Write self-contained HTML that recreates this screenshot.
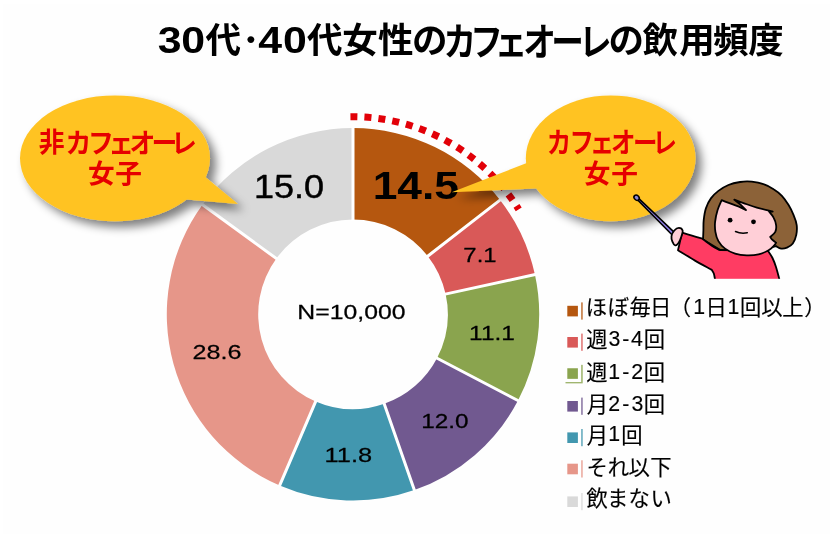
<!DOCTYPE html>
<html lang="ja">
<head>
<meta charset="utf-8">
<title>30代･40代女性のカフェオーレの飲用頻度</title>
<style>
html,body{margin:0;padding:0;background:#fff;}
body{width:834px;height:538px;overflow:hidden;font-family:"Liberation Sans","Noto Sans CJK JP",sans-serif;}
svg{display:block;}
text{font-family:"Liberation Sans","Noto Sans CJK JP",sans-serif;white-space:pre;}
.t{font-weight:bold;fill:#000;}
.b{font-weight:bold;fill:#E60000;}
.l{fill:#000;stroke:#000;stroke-linejoin:round;}
.lg{fill:#000;stroke:#000;stroke-width:0.15px;stroke-linejoin:round;}
.lb{font-weight:bold;fill:#000;}
</style>
</head>
<body>
<svg width="834" height="538" viewBox="0 0 834 538">
<defs>
<filter id="sh" x="-20%" y="-20%" width="160%" height="160%">
<feGaussianBlur in="SourceAlpha" stdDeviation="4.6"/>
<feOffset dx="6" dy="6"/>
<feComponentTransfer><feFuncA type="linear" slope="0.5"/></feComponentTransfer>
<feMerge><feMergeNode/><feMergeNode in="SourceGraphic"/></feMerge>
</filter>
</defs>
<rect width="834" height="538" fill="#fff"/>
<rect x="3" y="4.5" width="827.3" height="529.8" fill="#fefefe"/>
<text class="t" font-size="35.5" x="157.72 181.27 205.42 241.89 258.28 282.97 306.97 342.15 378.06 411.91 443.62 470.18 494.7 523.36 551.3 579.01 608.51 642.61 679.28 713.02 748.14" y="53.1 53.1 53.1 53.1 53.1 53.1 53.1 53.1 53.1 53.1 54.6 54.6 54.6 54.6 54.6 54.6 53.1 53.1 53.1 53.1 53.1"><tspan font-size="36.6" textLength="47.63" lengthAdjust="spacingAndGlyphs">30</tspan>代･<tspan font-size="36.6" textLength="47.63" lengthAdjust="spacingAndGlyphs">40</tspan>代女性の<tspan font-size="37.5" textLength="195.75" lengthAdjust="spacingAndGlyphs">カフェオーレ</tspan>の飲用頻度</text>
<g shape-rendering="geometricPrecision">
<path d="M353 128.1A186.2 186.2 0 0 1 500.02 200.04L427.85 256.13A94.8 94.8 0 0 0 353 219.5Z" fill="#B5570F"/>
<path d="M500.02 200.04A186.2 186.2 0 0 1 534.91 274.58L445.62 294.08A94.8 94.8 0 0 0 427.85 256.13Z" fill="#D95958"/>
<path d="M534.91 274.58A186.2 186.2 0 0 1 518.01 400.57L437.01 358.22A94.8 94.8 0 0 0 445.62 294.08Z" fill="#8AA44E"/>
<path d="M518.01 400.57A186.2 186.2 0 0 1 414.36 490.1L384.24 403.8A94.8 94.8 0 0 0 437.01 358.22Z" fill="#715990"/>
<path d="M414.36 490.1A186.2 186.2 0 0 1 279.66 485.45L315.66 401.44A94.8 94.8 0 0 0 384.24 403.8Z" fill="#4297AF"/>
<path d="M279.66 485.45A186.2 186.2 0 0 1 202.46 204.71L276.36 258.51A94.8 94.8 0 0 0 315.66 401.44Z" fill="#E69689"/>
<path d="M202.46 204.71A186.2 186.2 0 0 1 353 128.1L353 219.5A94.8 94.8 0 0 0 276.36 258.51Z" fill="#D9D9D9"/>
<path d="M353 126.6L353 221M501.21 199.12L426.67 257.05M536.38 274.26L444.15 294.4M519.34 401.27L435.68 357.53M414.85 491.52L383.75 402.39M279.07 486.83L316.25 400.06M201.25 203.83L277.57 259.39" stroke="#fff" stroke-width="3.0" fill="none"/>
</g>
<path d="M350.45 116.71A195.8 195.8 0 0 1 518.71 209.32" fill="none" stroke="#E20008" stroke-width="7" stroke-dasharray="7 7.03"/>
<text class="lb" x="372.71" y="198.52" font-size="39.27" textLength="86.33" lengthAdjust="spacingAndGlyphs">14.5</text>
<text class="l" x="463.38" y="261.7" font-size="20.2" stroke-width="0.26" textLength="33.19" lengthAdjust="spacingAndGlyphs">7.1</text>
<text class="l" x="469.11" y="340.4" font-size="20.35" stroke-width="0.26" textLength="45.74" lengthAdjust="spacingAndGlyphs">11.1</text>
<text class="l" x="421.15" y="427.61" font-size="19.63" stroke-width="0.26" textLength="47.3" lengthAdjust="spacingAndGlyphs">12.0</text>
<text class="l" x="324.64" y="462.1" font-size="20.34" stroke-width="0.26" textLength="47.52" lengthAdjust="spacingAndGlyphs">11.8</text>
<text class="l" x="192.53" y="358.9" font-size="20.34" stroke-width="0.26" textLength="48.97" lengthAdjust="spacingAndGlyphs">28.6</text>
<text class="l" x="253.95" y="198.47" font-size="33.9" stroke-width="0.44" textLength="70.15" lengthAdjust="spacingAndGlyphs">15.0</text>
<text class="l" x="297.37" y="318.6" font-size="20.34" stroke-width="0.26" textLength="108.1" lengthAdjust="spacingAndGlyphs">N=10,000</text>
<rect x="567.3" y="305.8" width="10.6" height="10.6" fill="#B5570F"/>
<rect x="581.2" y="302.4" width="1.5" height="17.2" fill="#B5570F" opacity="0.85"/>
<text class="lg" font-size="21.3" x="585.65 607.75 629.43 649.91 669.64 693.14 705.61 727.39 740.09 761.33 782.14 804.21" y="315.14 315.14 314.97 314.97 314.97 313.87 314.97 313.87 314.97 314.97 314.97 314.97">ほぼ毎日（1日1回以上）</text>
<rect x="567.3" y="337" width="10.6" height="10.6" fill="#D95958"/>
<rect x="581.2" y="333.6" width="1.5" height="17.2" fill="#D95958" opacity="0.85"/>
<text class="lg" font-size="21.3" x="586.31 608.39 622.25 630.99 643.79" y="346.97 345.87 345.87 345.87 346.97">週3-4回</text>
<rect x="567.3" y="368.25" width="10.6" height="10.6" fill="#8AA44E"/>
<rect x="581.2" y="364.85" width="1.5" height="17.2" fill="#8AA44E" opacity="0.85"/>
<rect x="565.5" y="382.05" width="17.2" height="1.3" fill="#8AA44E" opacity="0.85"/>
<text class="lg" font-size="21.3" x="586.31 608.29 622.25 631.23 643.79" y="379.67 378.57 378.57 378.57 379.67">週1-2回</text>
<rect x="567.3" y="401" width="10.6" height="10.6" fill="#715990"/>
<rect x="581.2" y="397.6" width="1.5" height="17.2" fill="#715990" opacity="0.85"/>
<text class="lg" font-size="21.3" x="586.8 608.28 622.25 631.54 643.79" y="411.67 410.57 410.57 410.57 411.67">月2-3回</text>
<rect x="567.3" y="432.4" width="10.6" height="10.6" fill="#4297AF"/>
<rect x="581.2" y="429" width="1.5" height="17.2" fill="#4297AF" opacity="0.85"/>
<text class="lg" font-size="21.3" x="586.8 608.29 621.34" y="442.57 441.47 442.57">月1回</text>
<rect x="567.3" y="463.7" width="10.6" height="10.6" fill="#E69689"/>
<rect x="581.2" y="460.3" width="1.5" height="17.2" fill="#E69689" opacity="0.85"/>
<text class="lg" font-size="21.3" x="586.52 607.85 628.58 650.19" y="474.84 474.84 474.67 474.67">それ以下</text>
<rect x="567.3" y="496.4" width="10.6" height="10.6" fill="#D9D9D9"/>
<rect x="581.2" y="493" width="1.5" height="17.2" fill="#D9D9D9" opacity="0.85"/>
<text class="lg" font-size="21.3" x="586.45 607.09 628.62 650.56" y="505.57 505.74 505.74 505.74">飲まない</text>
<g filter="url(#sh)">
<path d="M195 168.6L238 204L175 198.5Z" fill="#FFC324"/>
<ellipse cx="115" cy="158.35" rx="95" ry="62.95" fill="#FFC324"/>
</g>
<g filter="url(#sh)">
<path d="M530 161.7L451.7 192.3L545 188.05Z" fill="#FFC324"/>
<ellipse cx="610.65" cy="158.3" rx="84.85" ry="62.9" fill="#FFC324"/>
</g>
<text class="b" font-size="26.94" textLength="181.01" lengthAdjust="spacingAndGlyphs" x="38.66 65.55 88.12 108.29 129.58 151.58 170.92" y="152 152.81 152.81 152.81 152.81 152.81 152.81">非カフェオーレ</text>
<text class="b" font-size="26.67" x="87.97 115.3" y="182.7">女子</text>
<text class="b" font-size="28.16" textLength="147.01" lengthAdjust="spacingAndGlyphs" x="546.8 569.52 589.77 610.89 632.96 652.48" y="153.12">カフェオーレ</text>
<text class="b" font-size="26.67" x="583.87 611.2" y="182.7">女子</text>
<g stroke="#000" stroke-width="1.8" stroke-linejoin="round" stroke-linecap="round">
<path d="M703 239.5C703.1 237.9 703.3 233.4 703.4 230.2C703.5 227 703.3 223.8 703.7 220.2C704.1 216.6 704.7 212 705.9 208.4C707.1 204.8 708.8 201.3 710.9 198.4C713 195.5 715.5 193.1 718.4 190.9C721.3 188.7 724.8 186.5 728.4 185C732 183.5 736.2 182.6 740.1 182C744 181.4 747.9 181.3 751.8 181.7C755.7 182.1 759.9 182.9 763.5 184.2C767.1 185.4 770.5 187.2 773.6 189.2C776.7 191.1 779.4 193.2 781.9 195.9C784.4 198.6 786.6 201.9 788.6 205.1C790.6 208.3 792.2 211.8 793.6 215.1C795 218.4 796.3 221.8 796.7 225.2C797.1 228.5 796.9 232.1 796.2 235.2C795.6 238.3 794.3 241.5 792.8 243.6C791.3 245.7 789 246.9 787 247.7C785 248.5 782.9 248.9 781.1 248.6C779.3 248.3 776.9 246.5 776.1 246.1C773.4 246.8 762.7 249.3 760 250C753.7 250.2 728.3 250.8 722 251C718.8 249.1 706.2 241.4 703 239.5Z" fill="#8C6238"/>
<path d="M682.1 232.6C683.8 233.1 688.6 234.6 692 235.6C695.4 236.6 700.7 238.2 702.4 238.7C704 239.9 708.9 243.8 711.8 245.7C714.7 247.6 718.3 249.3 719.6 250C727.7 250.1 759.9 250.7 768 250.8C768.8 252 771.2 255.3 772.5 258C773.8 260.7 774.9 263.6 776 267C777.1 270.4 778.7 276.8 779.2 278.7C779.4 279.4 780 282.3 780.2 283C769.4 283 726.4 283 715.6 283C715.5 282.3 715 279.4 714.9 278.7C714.7 277.8 714.3 275 713.8 273.5C713.3 272 712.1 270.5 711.8 269.9C709 268.3 700.6 263.9 695 260.6C689.4 257.3 680.8 251.9 678 250.2C678.7 247.3 681.4 235.5 682.1 232.6Z" fill="#FF3C63"/>
<rect x="708" y="278.8" width="78" height="7" fill="#fefefe" stroke="none"/>
<path d="M721.7 200.1C721 201.8 718.7 206.5 717.6 210.1C716.5 213.7 715.5 218.2 715.1 221.8C714.7 225.4 714.9 228.7 715.4 231.9C715.9 235.1 716.8 238.3 718.4 241.1C720 243.9 722.3 246.5 725.1 248.6C727.9 250.7 731.5 252.5 735.1 253.6C738.7 254.7 742.9 255.2 746.8 255.3C750.7 255.4 754.9 255.2 758.5 254.4C762.1 253.6 766 251.8 768.6 250.3C771.2 248.8 773.1 246.5 774.4 245.2C775.6 243.9 775.8 243.1 776.1 242.7C775.4 242.1 772.9 240.4 771.9 239.4C770.9 238.4 770.5 237.3 770.2 236.9C771.1 236.1 774.3 233.9 775.3 231.9C776.3 229.9 776.4 227.6 776.1 225.2C775.8 222.8 774.9 220 773.6 217.6C772.4 215.2 769.4 212.1 768.6 211C769.3 211.1 772 211.4 772.7 211.5C770.1 210.8 761.8 209 756.9 207.6C752 206.2 747.3 204.4 743.5 203.1C739.7 201.8 735.8 200.3 734.3 199.7C735.3 200.5 738.1 202.6 740.1 204.3C742.1 206 745 209.1 746 210.1C745.2 209.7 743.6 208.7 741 207.6C738.4 206.5 733.3 204.7 730.1 203.4C726.9 202.2 723.1 200.7 721.7 200.1Z" fill="#FFCFD7"/>
<path d="M637.6 197.4L674.6 232.6L672.2 235L636.4 198.6Z" fill="#8E7DE6" stroke-width="1.5"/>
<ellipse cx="636.6" cy="197.7" rx="2.9" ry="2.3" transform="rotate(45 636.6 197.7)" fill="#8A86D8" stroke-width="1.5"/>
<path d="M671.5 236.1C671.8 234.2 673.1 231.9 674.3 230.5C675.5 229.1 677.5 227.8 678.9 227.8C680.3 227.8 682.2 229 682.6 230.5C683 232 681.9 234.9 681.2 237C680.5 239.1 679.5 241.6 678.5 243C677.5 244.4 676.2 245.6 675.2 245.4C674.2 245.2 673 243.2 672.4 241.7C671.8 240.1 671.2 238 671.5 236.1Z" fill="#FFCFD7"/>
<path d="M735.5 231.5Q741 234 747.3 232.7" fill="none" stroke-width="1.5"/>
<circle cx="730.1" cy="220.2" r="2.4" fill="#000" stroke="none"/>
<circle cx="753.5" cy="221.8" r="2.4" fill="#000" stroke="none"/>
</g>
</svg>
</body>
</html>
